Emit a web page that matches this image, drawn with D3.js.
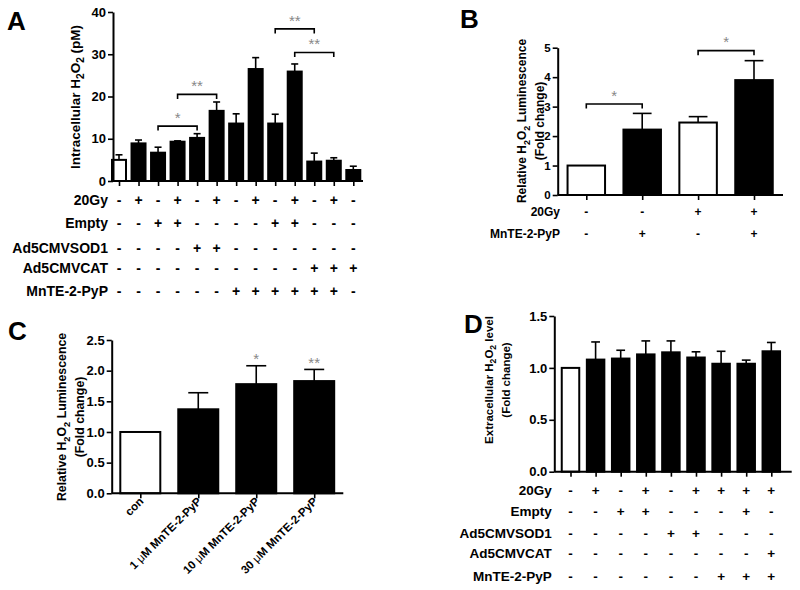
<!DOCTYPE html>
<html><head><meta charset="utf-8">
<script src="https://cdn.jsdelivr.net/npm/d3@7"></script>
<style>
body{margin:0;background:#fff}
svg{display:block;font-family:"Liberation Sans",Arial,sans-serif;font-weight:bold}
</style></head><body>
<svg id="fig" width="800" height="590"></svg>
<script>
// ---------- Panel A ----------
const aValues=[5.0,8.9,6.7,9.3,10.2,16.6,13.6,26.5,13.6,25.9,4.6,4.8,2.6];
const aErrors=[1.2,0.8,1.3,0.2,1.0,2.1,2.3,2.7,2.2,1.8,2.0,0.7,0.9];
const aFills=["white","black","black","black","black","black","black","black","black","black","black","black","black"];
const aYTicks=[0,10,20,30,40];
const aRowLabels=["20Gy","Empty","Ad5CMVSOD1","Ad5CMVCAT","MnTE-2-PyP"];
const aRowSigns=["-+-+-+-+-+-+-","--++----++---","----++-------","----------+++","------++++++-"];
const aSig=[[2,4,"*",13.0],[3,5,"**",20.5],[8,10,"**",36.0],[9,11,"**",30.4]];

// ---------- Panel B ----------
const bValues=[1.0,2.22,2.46,3.9];
const bErrors=[0,0.55,0.2,0.66];
const bFills=["white","black","white","black"];
const bYTicks=[0,1,2,3,4,5];
const bRowLabels=["20Gy","MnTE-2-PyP"];
const bRowSigns=["--++","-+-+"];
const bSig=[[0,1,"*",3.09],[2,3,"*",4.9]];

// ---------- Panel C ----------
const cCategories=["con","1 μM MnTE-2-PyP","10 μM MnTE-2-PyP","30 μM MnTE-2-PyP"];
const cValues=[1.0,1.37,1.78,1.83];
const cErrors=[0,0.27,0.30,0.19];
const cFills=["white","black","black","black"];
const cYTicks=[0,0.5,1.0,1.5,2.0,2.5];
const cStars=["","","*","**"];

// ---------- Panel D ----------
const dValues=[1.0,1.08,1.09,1.13,1.15,1.10,1.04,1.04,1.16];
const dErrors=[0,0.17,0.08,0.13,0.11,0.055,0.12,0.035,0.085];
const dFills=["white","black","black","black","black","black","black","black","black"];
const dYTicks=[0,0.5,1.0,1.5];
const dRowLabels=["20Gy","Empty","Ad5CMVSOD1","Ad5CMVCAT","MnTE-2-PyP"];
const dRowSigns=["-+-+-++++","--++---+-","----++---","--------+","------+++"];

const svg=d3.select("#fig");
const STAR="#888";
const STAR_SIZE=15;

function ylabel(g,x,y,lines,size,gap){
  lines.forEach((ln,i)=>{
    const t=g.append("text").attr("transform",`translate(${x+i*gap},${y}) rotate(-90)`)
      .attr("text-anchor","middle").attr("font-size",size).attr("y",size*0.35);
    let shifted=false;
    ln.forEach(seg=>{
      const s=t.append("tspan");
      if(seg.sub){ s.attr("font-size",size*0.75); if(!shifted) s.attr("dy",size*0.28); shifted=true; }
      else { if(shifted) s.attr("dy",-size*0.28); shifted=false; }
      s.text(seg.t);
    });
  });
}

function panel(cfg){
  const g=svg.append("g");
  const n=cfg.values.length;
  const x=d3.scalePoint().domain(d3.range(n)).range([cfg.c0,cfg.c1]);
  const y=d3.scaleLinear().domain([0,cfg.yMax]).range([cfg.y0,cfg.y1]);
  const bw=cfg.bw;
  g.selectAll("rect.bar").data(cfg.values).join("rect").attr("class","bar")
    .attr("x",(d,i)=>x(i)-bw/2).attr("width",bw)
    .attr("y",d=>y(d)).attr("height",d=>y(0)-y(d))
    .attr("fill",(d,i)=>cfg.fills[i]).attr("stroke","black").attr("stroke-width",2);
  cfg.values.forEach((v,i)=>{
    const e=cfg.errors[i]; if(!e) return;
    g.append("line").attr("x1",x(i)).attr("x2",x(i)).attr("y1",y(v)).attr("y2",y(v+e))
      .attr("stroke","black").attr("stroke-width",1.6);
    g.append("line").attr("x1",x(i)-bw/4).attr("x2",x(i)+bw/4).attr("y1",y(v+e)).attr("y2",y(v+e))
      .attr("stroke","black").attr("stroke-width",1.6);
  });
  const ya=g.append("g").attr("transform",`translate(${cfg.ax0},0)`)
    .call(d3.axisLeft(y).tickValues(cfg.yTicks).tickSize(5).tickSizeOuter(0).tickPadding(2).tickFormat(cfg.fmt));
  ya.select(".domain").attr("stroke-width",2);
  ya.selectAll(".tick line").attr("stroke-width",1.6);
  ya.selectAll("text").attr("font-size",cfg.tickSize||13).attr("font-family","Liberation Sans, Arial, sans-serif").attr("font-weight","bold");
  const xa=g.append("g").attr("transform",`translate(0,${cfg.y0})`)
    .call(d3.axisBottom(x).tickSize(5).tickSizeOuter(0).tickFormat(""));
  xa.select(".domain").remove();
  xa.selectAll(".tick line").attr("stroke-width",1.6);
  g.append("line").attr("x1",cfg.ax0).attr("x2",cfg.ax1).attr("y1",cfg.y0).attr("y2",cfg.y0)
    .attr("stroke","black").attr("stroke-width",2);
  (cfg.sig||[]).forEach(([a,b,s,h])=>{
    const yy=y(h);
    g.append("path").attr("d",`M${x(a)},${yy+4.5}V${yy}H${x(b)}V${yy+4.5}`)
      .attr("fill","none").attr("stroke","black").attr("stroke-width",1.6);
    g.append("text").attr("x",(x(a)+x(b))/2).attr("y",yy-12+STAR_SIZE*0.58).attr("text-anchor","middle")
      .attr("font-size",STAR_SIZE).attr("font-weight","normal").attr("fill",STAR).text(s);
  });
  (cfg.rowLabels||[]).forEach((lab,r)=>{
    const ry=cfg.rowY[r];
    g.append("text").attr("x",cfg.rowLabelX).attr("y",ry).attr("dy","0.35em")
      .attr("text-anchor","end").attr("font-size",cfg.rowSize).text(lab);
    cfg.rowSigns[r].split("").forEach((s,i)=>{
      g.append("text").attr("x",x(i)).attr("y",ry).attr("dy","0.35em")
        .attr("text-anchor","middle").attr("font-size",cfg.rowSize).text(s==="+"?"+":"-");
    });
  });
  return {g,x,y};
}

[["A",7,30],["B",460,28],["C",8,340],["D",464,333]].forEach(([t,x,y])=>{
  svg.append("text").attr("x",x).attr("y",y).attr("font-size",26).text(t);
});

const pA=panel({values:aValues,errors:aErrors,fills:aFills,yMax:40,y0:181,y1:12,c0:119,c1:353.3,bw:14,
  ax0:113,ax1:363,yTicks:aYTicks,fmt:d3.format("d"),sig:aSig,
  rowLabels:aRowLabels,rowSigns:aRowSigns,rowY:[200,223,248,268,291],rowLabelX:108,rowSize:14});
ylabel(pA.g,75,97,[[{t:"Intracellular H"},{t:"2",sub:1},{t:"O"},{t:"2",sub:1},{t:" (pM)"}]],13.5,0);

const pB=panel({values:bValues,errors:bErrors,fills:bFills,yMax:5,y0:195,y1:47.7,c0:586.3,c1:754,bw:37.5,
  ax0:557.7,ax1:783,yTicks:bYTicks,fmt:d3.format("d"),sig:bSig,tickSize:11.5,
  rowLabels:bRowLabels,rowSigns:bRowSigns,rowY:[211.7,233.3],rowLabelX:560,rowSize:12});
ylabel(pB.g,522,121,[[{t:"Relative H"},{t:"2",sub:1},{t:"O"},{t:"2",sub:1},{t:" Luminescence"}],[{t:"(Fold change)"}]],12,18);

const pC=panel({values:cValues,errors:cErrors,fills:cFills,yMax:2.5,y0:493.3,y1:340,c0:140.3,c1:314.2,bw:40,
  ax0:111.7,ax1:343.3,yTicks:cYTicks,fmt:d3.format(".1f")});
ylabel(pC.g,62,417,[[{t:"Relative H"},{t:"2",sub:1},{t:"O"},{t:"2",sub:1},{t:" Luminescence"}],[{t:"(Fold change)"}]],12.3,18);
cCategories.forEach((c,i)=>{
  const t=pC.g.append("text").attr("transform",`translate(${pC.x(i)+4},${502}) rotate(-45)`)
    .attr("text-anchor","end").attr("font-size",11.5);
  const parts=c.split("μ");
  if(parts.length>1){t.append("tspan").text(parts[0]);t.append("tspan").attr("font-weight","normal").text("μ");t.append("tspan").text(parts[1]);}
  else t.text(c);
});
cStars.forEach((s,i)=>{
  if(!s) return;
  pC.g.append("text").attr("x",pC.x(i)).attr("y",pC.y(cValues[i]+cErrors[i])-10+STAR_SIZE*0.58)
    .attr("text-anchor","middle").attr("font-size",STAR_SIZE).attr("font-weight","normal").attr("fill",STAR).text(s);
});

const pD=panel({values:dValues,errors:dErrors,fills:dFills,yMax:1.5,y0:471.7,y1:316,c0:570.5,c1:771.3,bw:17.5,
  ax0:554.3,ax1:791.7,yTicks:dYTicks,fmt:d3.format(".1f"),
  rowLabels:dRowLabels,rowSigns:dRowSigns,rowY:[490,511.7,533.3,553.3,576.7],rowLabelX:551.7,rowSize:13.5});
ylabel(pD.g,489,380,[[{t:"Extracellular H"},{t:"2",sub:1},{t:"O"},{t:"2",sub:1},{t:" level"}],[{t:"(Fold change)"}]],11.5,17);
</script>
</body></html>
